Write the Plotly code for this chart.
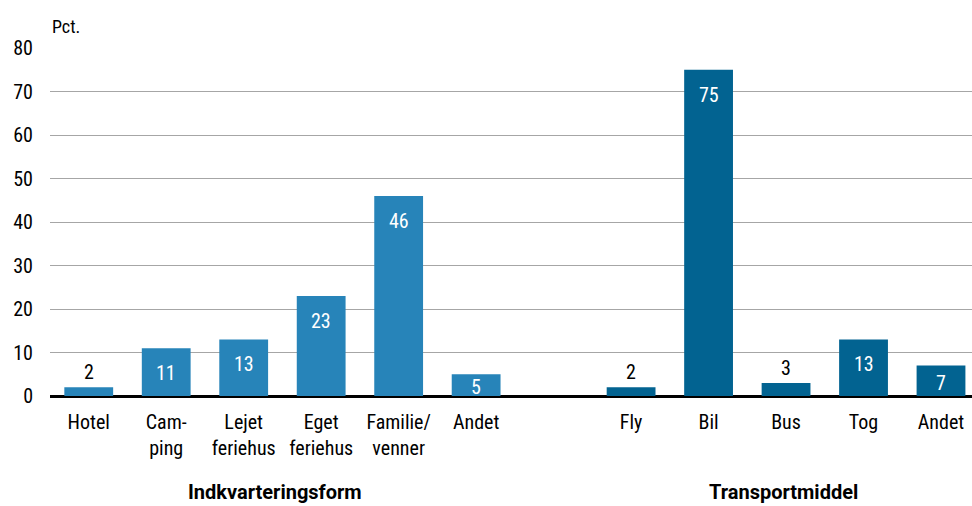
import plotly.graph_objects as go

acc_keys = ["Hotel", "Camping", "Lejet", "Eget", "Familie", "Andet1"]
acc_labels = ["Hotel", "Cam-<br>ping", "Lejet<br>feriehus", "Eget<br>feriehus", "Familie/<br>venner", "Andet"]
acc_values = [2, 11, 13, 23, 46, 5]

tr_keys = ["Fly", "Bil", "Bus", "Tog", "Andet2"]
tr_labels = ["Fly", "Bil", "Bus", "Tog", "Andet"]
tr_values = [2, 75, 3, 13, 7]

gap_key = ["gap"]
y_ticks = [0, 10, 20, 30, 40, 50, 60, 70, 80]

FONT = "Liberation Sans Narrow, Roboto Condensed, Roboto, sans-serif"
BOLD_FONT = "Roboto, sans-serif"
LIGHT = "#2784b9"
DARK = "#026391"

fig = go.Figure()
fig.add_trace(go.Bar(x=acc_keys, y=acc_values, marker_color=LIGHT, marker_line_width=0, hoverinfo="skip"))
fig.add_trace(go.Bar(x=tr_keys, y=tr_values, marker_color=DARK, marker_line_width=0, hoverinfo="skip"))

order = acc_keys + gap_key + tr_keys
ticktext = acc_labels + [""] + tr_labels

def add_value_labels(keys, values):
    for k, v in zip(keys, values):
        if v >= 10:
            fig.add_annotation(x=k, y=v, text=str(v), showarrow=False, yshift=-25,
                               font=dict(color="white", size=20, family=FONT))
        elif v >= 4:
            fig.add_annotation(x=k, y=v / 2, text=str(v), showarrow=False, yshift=-2,
                               font=dict(color="white", size=20, family=FONT))
        else:
            fig.add_annotation(x=k, y=v, text=str(v), showarrow=False, yshift=15,
                               font=dict(color="black", size=20, family=FONT))

add_value_labels(acc_keys, acc_values)
add_value_labels(tr_keys, tr_values)

fig.add_annotation(x=0, xref="paper", xanchor="left", y=1, yref="paper", yanchor="bottom", yshift=9,
                   text="Pct.", showarrow=False, font=dict(size=18, family=FONT, color="black"))
fig.add_annotation(x=acc_keys[2], xshift=31, y=0, yref="paper", yanchor="top", yshift=-82,
                   text="<b>Indkvarteringsform</b>", showarrow=False, font=dict(size=20, family=BOLD_FONT, color="black"))
fig.add_annotation(x=tr_keys[2], xshift=-3, y=0, yref="paper", yanchor="top", yshift=-82,
                   text="<b>Transportmiddel</b>", showarrow=False, font=dict(size=20, family=BOLD_FONT, color="black"))

fig.update_layout(
    width=972, height=506,
    margin=dict(l=50, r=0, t=48, b=110),
    paper_bgcolor="white", plot_bgcolor="white",
    showlegend=False,
    bargap=0.37,
    font=dict(family=FONT, size=20, color="black"),
    xaxis=dict(type="category", categoryorder="array", categoryarray=order,
               tickvals=order, ticktext=ticktext, range=[-0.5, 11.4],
               showgrid=False, ticks="", showline=False, zeroline=False, automargin=False,
               tickfont=dict(size=20), ticklabelstandoff=12),
    yaxis=dict(range=[0, 80], tickvals=y_ticks, showgrid=True, gridcolor="#a6a6a6", gridwidth=1.3,
               zeroline=True, zerolinecolor="black", zerolinewidth=3, ticks="", automargin=False,
               tickfont=dict(size=20), ticklabelstandoff=16, showline=False),
)

fig.write_html("out.html", config={"displayModeBar": False},
               post_script="document.body.style.margin='0';document.body.style.overflow='hidden';")
